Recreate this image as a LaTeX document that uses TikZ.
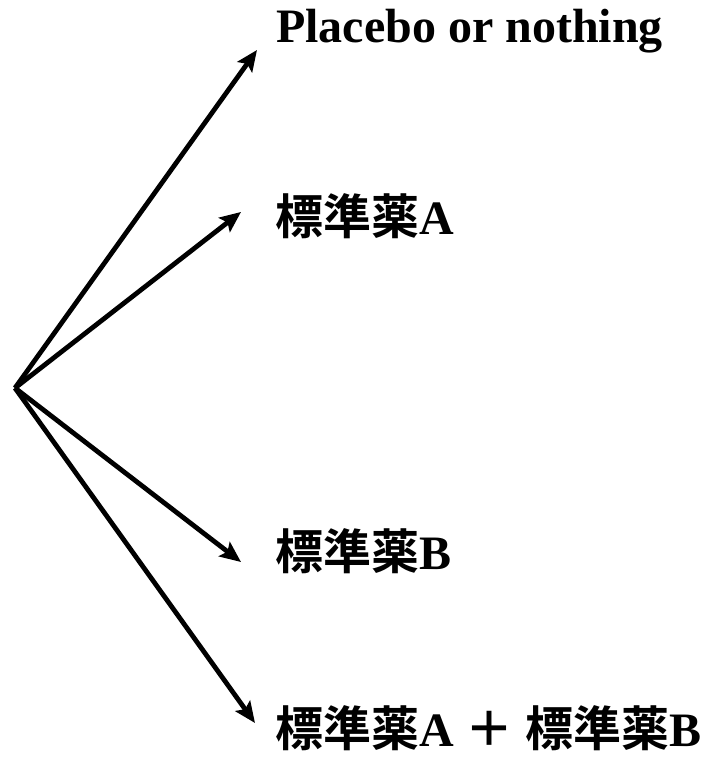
\documentclass[tikz,border=0pt]{standalone}
\usepackage{fontspec}
\setmainfont{Liberation Serif}
\newfontfamily\cjk{Noto Sans CJK JP}[BoldFont={Noto Sans CJK JP Bold}]
\usetikzlibrary{arrows.meta}
\begin{document}
\begin{tikzpicture}[x=1pt,y=1pt,
  arm/.style={line width=4.8pt,-{Stealth[length=21pt,width=18pt,inset=4pt]}},
  lbl/.style={anchor=base west,inner sep=0pt,font=\fontsize{48}{54}\selectfont\bfseries}]
\useasboundingbox (0,0) rectangle (709,758);
\coordinate (o) at (15,370);
\coordinate (t1) at (257,708);
\coordinate (t2) at (241,546);
\coordinate (t3) at (241,196);
\coordinate (t4) at (255,35);
\node[lbl] (l1) at (276,715) {Placebo or nothing};
\node[lbl] (l2) at (275,523) {{\cjk 標準薬}A};
\node[lbl] (l3) at (275,188) {{\cjk 標準薬}B};
\node[lbl] (l4) at (275,11) {{\cjk 標準薬}A {\cjk ＋} {\cjk 標準薬}B};
\draw[arm] (o) -- (t1);
\draw[arm] (o) -- (t2);
\draw[arm] (o) -- (t3);
\draw[arm] (o) -- (t4);
\end{tikzpicture}
\end{document}
